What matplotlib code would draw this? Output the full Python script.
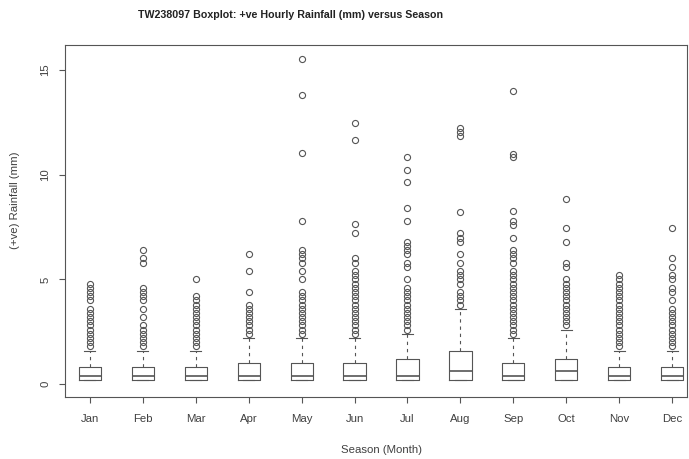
import matplotlib
matplotlib.use("Agg")
import matplotlib.pyplot as plt

plt.rcParams["font.family"] = ["Liberation Sans", "DejaVu Sans"]

# Monthly summary of positive hourly rainfall (mm)
months = ["Jan", "Feb", "Mar", "Apr", "May", "Jun",
          "Jul", "Aug", "Sep", "Oct", "Nov", "Dec"]
lower_quartile = [0.2, 0.2, 0.2, 0.2, 0.2, 0.2, 0.2, 0.2, 0.2, 0.2, 0.2, 0.2]
medians = [0.4, 0.4, 0.4, 0.4, 0.4, 0.4, 0.4, 0.6, 0.4, 0.6, 0.4, 0.4]
upper_quartile = [0.8, 0.8, 0.8, 1.0, 1.0, 1.0, 1.2, 1.6, 1.0, 1.2, 0.8, 0.8]
whisker_low = [0.2, 0.2, 0.2, 0.2, 0.2, 0.2, 0.2, 0.2, 0.2, 0.2, 0.2, 0.2]
whisker_high = [1.6, 1.6, 1.6, 2.2, 2.2, 2.2, 2.4, 3.6, 2.2, 2.6, 1.6, 1.6]

outliers_jan = [1.8, 2.0, 2.2, 2.4, 2.6, 2.8, 3.0, 3.2, 3.4, 3.6,
                4.0, 4.2, 4.4, 4.6, 4.8]
outliers_feb = [1.8, 2.0, 2.2, 2.4, 2.6, 2.8, 3.2, 3.6, 4.0, 4.2, 4.4, 4.6,
                5.8, 6.0, 6.4]
outliers_mar = [1.8, 2.0, 2.2, 2.4, 2.6, 2.8, 3.0, 3.2, 3.4, 3.6, 3.8,
                4.0, 4.2, 5.0]
outliers_apr = [2.4, 2.6, 2.8, 3.0, 3.2, 3.4, 3.6, 3.8, 4.4, 5.4, 6.2]
outliers_may = [2.4, 2.6, 2.8, 3.0, 3.2, 3.4, 3.6, 3.8, 4.0, 4.2, 4.4, 5.0,
                5.4, 5.8, 6.0, 6.2, 6.4, 7.8, 11.05, 13.8, 15.55]
outliers_jun = [2.4, 2.6, 2.8, 3.0, 3.2, 3.4, 3.6, 3.8, 4.0, 4.2, 4.4, 4.6,
                4.8, 5.0, 5.2, 5.4, 5.8, 6.0, 7.2, 7.65, 11.65, 12.45]
outliers_jul = [2.6, 2.8, 3.0, 3.2, 3.4, 3.6, 3.8, 4.0, 4.2, 4.4, 4.6, 5.0,
                5.6, 5.8, 6.2, 6.4, 6.6, 6.8, 7.8, 8.4, 9.65, 10.25, 10.85]
outliers_aug = [3.8, 4.0, 4.2, 4.4, 4.8, 5.0, 5.2, 5.4, 5.8, 6.2, 6.8, 7.0,
                7.2, 8.2, 11.85, 12.05, 12.25]
outliers_sep = [2.4, 2.6, 2.8, 3.0, 3.2, 3.4, 3.6, 3.8, 4.0, 4.2, 4.4, 4.6,
                4.8, 5.0, 5.2, 5.4, 5.8, 6.0, 6.2, 6.4, 7.0, 7.6, 7.8, 8.25,
                10.85, 11.0, 14.0]
outliers_oct = [2.8, 3.0, 3.2, 3.4, 3.6, 3.8, 4.0, 4.2, 4.4, 4.6, 4.8, 5.0,
                5.6, 5.8, 6.8, 7.45, 8.85]
outliers_nov = [1.8, 2.0, 2.2, 2.4, 2.6, 2.8, 3.0, 3.2, 3.4, 3.6, 3.8, 4.0,
                4.2, 4.4, 4.6, 4.8, 5.0, 5.2]
outliers_dec = [1.8, 2.0, 2.2, 2.4, 2.6, 2.8, 3.0, 3.2, 3.4, 3.6, 4.0, 4.4,
                4.6, 5.0, 5.2, 5.6, 6.0, 7.45]

outliers = [outliers_jan, outliers_feb, outliers_mar, outliers_apr,
            outliers_may, outliers_jun, outliers_jul, outliers_aug,
            outliers_sep, outliers_oct, outliers_nov, outliers_dec]

y_ticks = [0, 5, 10, 15]

ink = "#555555"
text_color = "#404040"

stats = []
for m, lo, q1, med, q3, hi, fl in zip(months, whisker_low, lower_quartile,
                                        medians, upper_quartile,
                                        whisker_high, outliers):
    stats.append(dict(label=m, whislo=lo, q1=q1, med=med, q3=q3,
                      whishi=hi, fliers=fl))

fig = plt.figure(figsize=(6.89, 4.59), dpi=100)
ax = fig.add_axes([65 / 689, 1 - 397 / 459, 622 / 689, 352 / 459])

positions = list(range(1, len(months) + 1))
ax.bxp(stats, positions=positions, widths=0.42, capwidths=0.21,
       boxprops=dict(color=ink, linewidth=0.8),
       medianprops=dict(color=ink, linewidth=1.2),
       whiskerprops=dict(color=ink, linewidth=0.8, linestyle=(0, (3, 3.5))),
       capprops=dict(color=ink, linewidth=0.8),
       flierprops=dict(marker="o", markersize=4.4, markerfacecolor="none",
                       markeredgecolor=ink, markeredgewidth=0.8))

ax.set_xlim(0.53, 12.28)
ax.set_ylim(-0.62, 16.2)
ax.set_yticks(y_ticks)
ax.set_yticklabels([str(t) for t in y_ticks], rotation=90, va="center")
ax.set_xticks(positions)
ax.set_xticklabels(months)

for side in ax.spines.values():
    side.set_color(ink)
    side.set_linewidth(0.8)

ax.tick_params(axis="both", direction="out", length=4.5, width=0.8,
               color=ink, labelcolor=text_color, labelsize=8.2)
ax.tick_params(axis="x", pad=8)
ax.tick_params(axis="y", pad=6)

ax.set_xlabel("Season (Month)", fontsize=8.2, color=text_color, va="center")
ax.xaxis.set_label_coords((381.5 - 65) / 622, (397 - 450) / 352)
ax.set_ylabel("(+ve) Rainfall (mm)", fontsize=8.2, color=text_color,
              va="center")
ax.yaxis.set_label_coords((15 - 65) / 622, (397 - 200) / 352)

fig.text(290 / 689, 1 - 15 / 459,
         "TW238097 Boxplot: +ve Hourly Rainfall (mm) versus Season",
         ha="center", va="center", fontsize=7.7, fontweight="bold",
         color="#222222")

fig.savefig("out.png", dpi=100)
